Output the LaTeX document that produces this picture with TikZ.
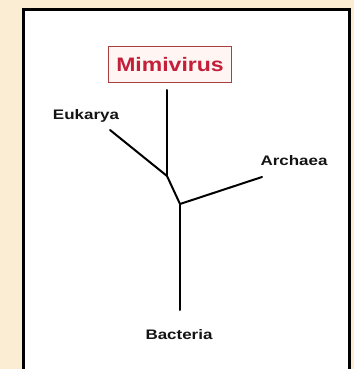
\documentclass[tikz,border=0pt]{standalone}
\usepackage{fontspec}
\setmainfont{Liberation Sans}
\definecolor{bgcream}{HTML}{FBEDD3}
\definecolor{mimired}{HTML}{C41E3A}
\definecolor{mimiborder}{HTML}{A84040}
\definecolor{mimifill}{HTML}{FFF6F3}
\begin{document}
\begin{tikzpicture}[x=1pt,y=1pt,
  branch/.style={line width=2pt, line cap=round, draw=black},
  taxon/.style={font=\bfseries\fontsize{13.8}{16}\selectfont, text=black!92, inner sep=0pt},
  mimibox/.style={draw=mimiborder, line width=1.4pt, fill=mimifill, minimum width=123pt, minimum height=36pt, inner sep=0pt, font=\bfseries\fontsize{19.5}{22}\selectfont, text=mimired}]
\useasboundingbox (0,0) rectangle (354,369);
\fill[bgcream] (0,0) rectangle (354,369);
\begin{scope}
\clip (0,0) rectangle (354,369);
\draw[fill=white, line width=2.6pt, draw=black] (23.5,359.5) rectangle (349.5,-10);
\end{scope}
\node[mimibox] (mimi) at (170,304.5) {\scalebox{1.18}[1]{Mimivirus}};
\node[taxon] (euk) at (86,253) {\scalebox{1.23}[1]{Eukarya}};
\node[taxon] (arc) at (294,208) {\scalebox{1.23}[1]{Archaea}};
\node[taxon] (bac) at (179,34) {\scalebox{1.23}[1]{Bacteria}};
\coordinate (mtop) at (167,279);
\coordinate (j1) at (167,193);
\coordinate (eend) at (110,239);
\coordinate (j2) at (180,165);
\coordinate (aend) at (262,192);
\coordinate (bend) at (180,59);
\draw[branch] (mtop) -- (j1);
\draw[branch] (eend) -- (j1);
\draw[branch] (j1) -- (j2);
\draw[branch] (j2) -- (aend);
\draw[branch] (j2) -- (bend);
\end{tikzpicture}
\end{document}
